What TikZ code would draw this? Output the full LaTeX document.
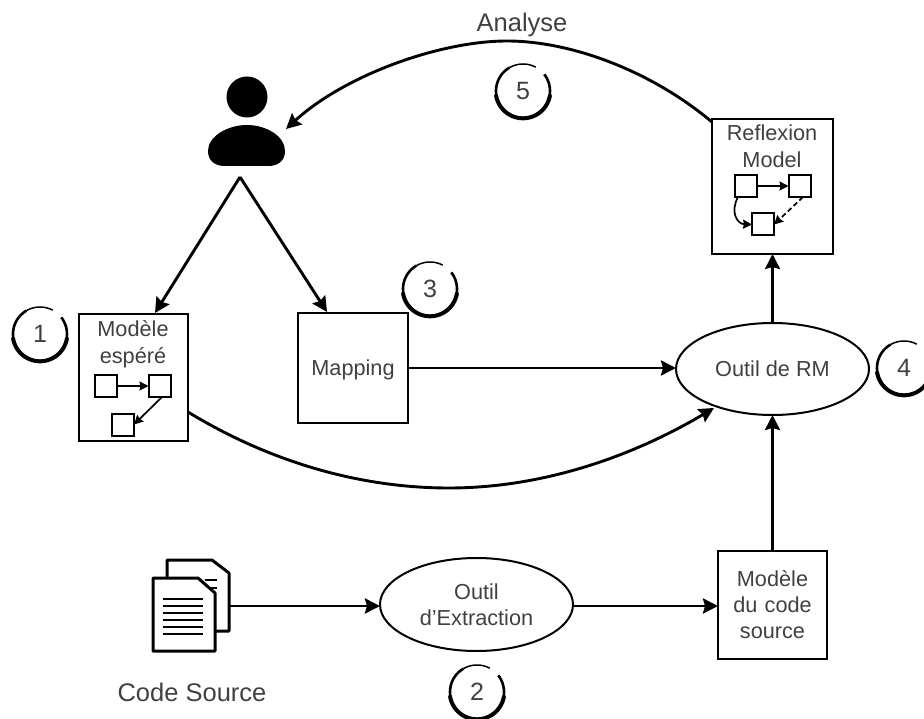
\documentclass[tikz,border=0pt]{standalone}
\usepackage{fontspec}
\setmainfont{Liberation Sans}
\usetikzlibrary{arrows.meta,shapes.geometric,calc}
\definecolor{txt}{HTML}{404040}
\tikzset{
  every node/.style={text=txt,font=\fontsize{21.7}{26}\selectfont,align=center,inner sep=0pt,outer sep=0pt},
  conn/.style={line width=2.9pt,-{Stealth[length=15pt,width=15pt,inset=2pt]}},
  boxnode/.style={draw=black,line width=2.3pt,rectangle,anchor=north west},
  ell/.style={draw=black,line width=2pt,ellipse},
  num/.style={font=\fontsize{25}{30}\selectfont},
  big/.style={font=\fontsize{25.5}{30}\selectfont},
  mini/.style={draw=black,line width=2pt,minimum size=22pt,rectangle},
  miniarr/.style={line width=1.7pt,-{Stealth[length=9pt,width=9pt,inset=1pt]}},
  doc/.style={draw=black,line width=3pt,line join=round,fill=white},
  docline/.style={draw=black,line width=1.6pt},
}
\begin{document}
\begin{tikzpicture}[x=1pt,y=-1pt]
\useasboundingbox (0,0) rectangle (924,719);
\clip (0,0) rectangle (924,719);
% boxes
\node[boxnode,minimum width=109pt,minimum height=127pt] (mesp) at (79,314) {};
\node[anchor=base] (mesplabel) at (133,337) {Modèle};
\node[anchor=base] (mesplabel2) at (133,363) {espéré};
\node[boxnode,minimum width=110pt,minimum height=110pt,text width=106pt,text depth=0pt] (map) at (298,313) {Mapping};
\node[boxnode,minimum width=121pt,minimum height=135pt] (rm) at (712,119) {};
\node[anchor=base] (rmlabel) at (772,141) {Reflexion};
\node[anchor=base] (rmlabel2) at (772,168) {Model};
\node[boxnode,minimum width=109pt,minimum height=108pt,text width=105pt] (mcs) at (718,551) {Modèle\\du code\\source};
% ellipses
\node[ell,minimum width=193pt,minimum height=92pt] (orm) at (772.5,369) {Outil de RM};
\node[ell,minimum width=193pt,minimum height=93pt] (oex) at (476.5,604.5) {Outil\\d’Extraction};
% mini diagrams
\node[mini] (a1) at (105.5,386) {};
\node[mini] (a2) at (159.5,386) {};
\node[mini] (a3) at (123,424.5) {};
\coordinate (a2s) at (162,397);
\coordinate (b1s) at (738,197);
\coordinate (b2s) at (803,197);
\draw[miniarr] (a1) -- (a2);
\draw[miniarr] (a2s) -- (a3.east);
\node[mini] (b1) at (745.5,186) {};
\node[mini] (b2) at (799.5,186) {};
\node[mini] (b3) at (763,224.5) {};
\draw[miniarr] (b1) -- (b2);
\draw[miniarr] (b1s) .. controls (730,212) and (737,224) .. (b3.west);
\draw[miniarr,dash pattern=on 5pt off 3pt] (b2s) -- (b3.east);
% person
\fill[black] (247,97) circle (20.5);
\fill[black] (208,151) .. controls (208,136) and (228,125) .. (247,125) .. controls (266,125) and (285,136) .. (285,151)
  .. controls (285,161) and (278,166) .. (268,166) -- (225,166) .. controls (215,166) and (208,161) .. (208,151) -- cycle;
\coordinate (pbottom) at (240,177);
\coordinate (pright) at (286,129);
% documents
\draw[doc] (167,610) -- (167,560) -- (212,560) -- (229,573) -- (229,631) -- (215,631);
\draw[docline] (205,580) -- (217,580) (205,588) -- (217,588);
\draw[doc] (153,651) -- (153,578) -- (198,578) -- (215,593) -- (215,651) -- cycle;
\foreach \yy in {599,606,613,620,627,634}{\draw[docline] (163,\yy) -- (203,\yy);}
\coordinate (docs) at (229,606);
\node[anchor=base,big] (cs) at (192,701) {Code Source};
\node[anchor=base,big] (ana) at (522,32) {Analyse};
% numbers
\foreach \nn/\cx/\cy/\lab in {n1/40/334/1,n2/477/692/2,n3/430/289/3,n4/904/368/4,n5/523/91/5}{
  \node[num] (\nn) at (\cx,\cy) {\lab};
  \draw[line width=2.6pt,shift={(\cx,\cy)}] plot[smooth,samples=60,domain=38:-240] ({27*cos(\x)},{-27*sin(\x)});
  \draw[line width=1.5pt,shift={(\cx,\cy)}] plot[smooth,samples=20,domain=120:62] ({27*cos(\x)},{-27*sin(\x)});
  \draw[line width=4pt,line cap=round,shift={(\cx,\cy)}] plot[smooth,samples=40,domain=-10:-170] ({27.3*cos(\x)},{-27.3*sin(\x)});
}
% connectors
\coordinate (mespt) at (155,313);
\coordinate (mapt) at (327,312);
\coordinate (mesr) at (188,412);
\coordinate (ormsw) at (714,408);
\coordinate (rmc) at (712,122);
\coordinate (cbot) at (449,488);
\coordinate (ctop) at (507,41);
\draw[conn] (pbottom) -- (mespt);
\draw[conn] (pbottom) -- (mapt);
\draw[conn] (map.east |- 0,368) -- (orm.west |- 0,368);
\draw[conn] (mesr) .. controls (270,462) and (360,488) .. (cbot) .. controls (545,488) and (635,455) .. (ormsw);
\draw[conn] (orm.north) -- (rm.south -| orm.north);
\draw[conn] (mcs.north -| orm.south) -- (orm.south);
\draw[conn] (docs) -- (oex.west |- docs);
\draw[conn] (oex.east |- docs) -- (mcs.west |- docs);
\draw[conn] (rmc) .. controls (650,70) and (570,41) .. (ctop) .. controls (440,41) and (345,75) .. (pright);
\end{tikzpicture}
\end{document}
